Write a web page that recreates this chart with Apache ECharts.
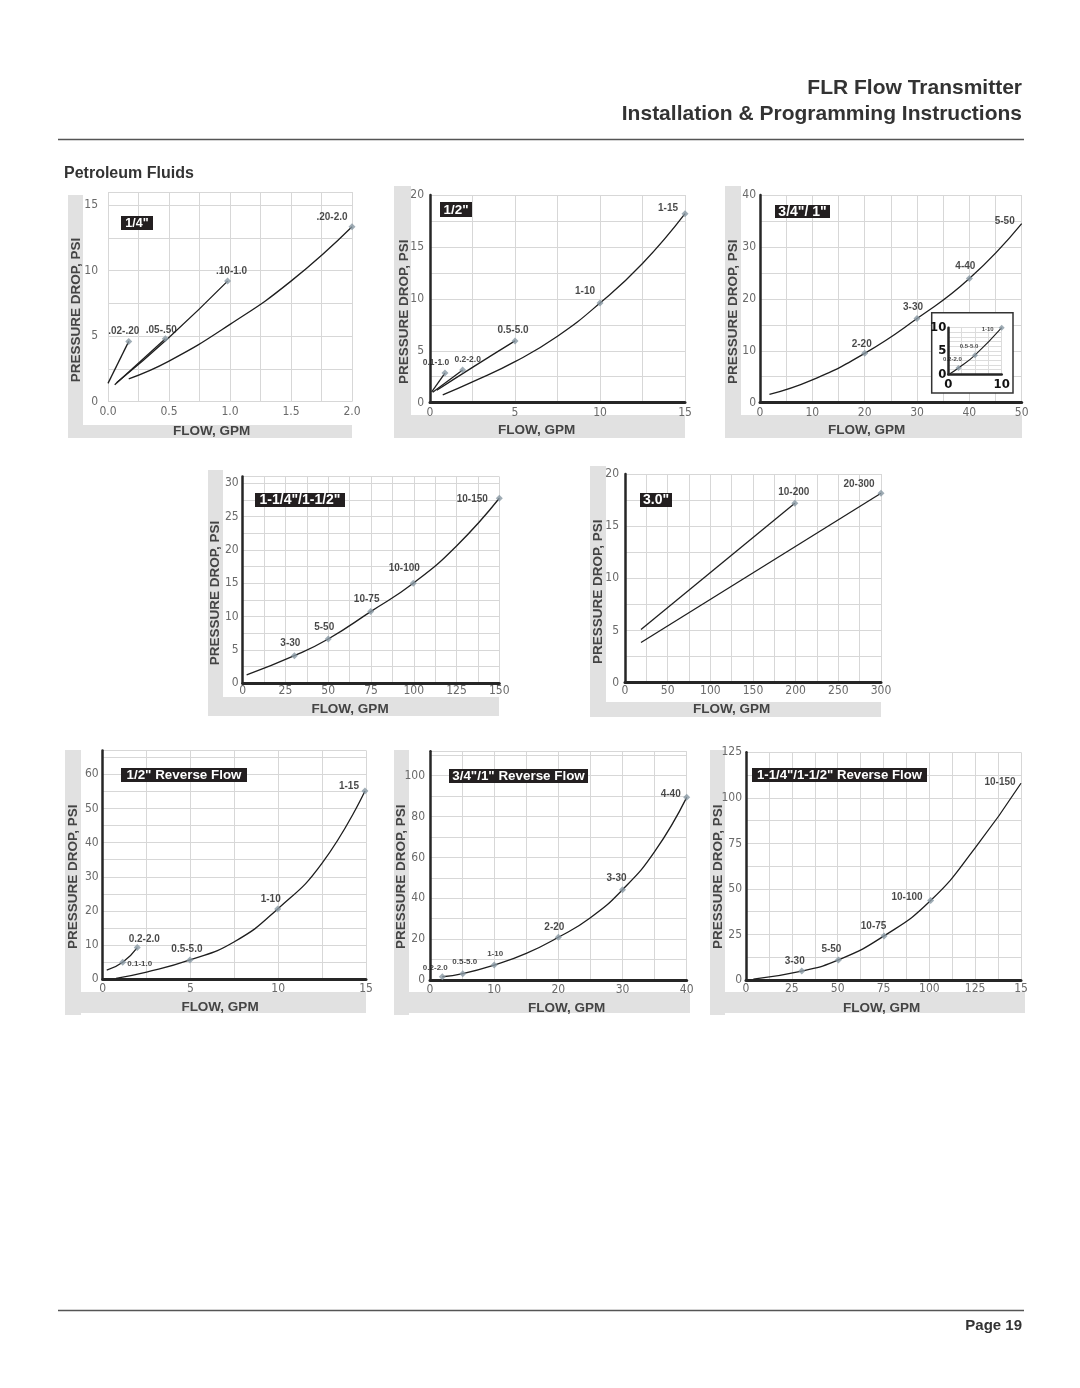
<!DOCTYPE html>
<html><head><meta charset="utf-8">
<script src="https://cdn.jsdelivr.net/npm/echarts@6/dist/echarts.min.js"></script>
<style>html,body{margin:0;padding:0;background:#fff}#c{width:1080px;height:1388px}</style>
</head><body><div id="c"></div>
<script>
// ================= DATA =================
// 1/4"
const quarter_xTicks = [0, 0.5, 1, 1.5, 2];
const quarter_yTicks = [0, 5, 10, 15];
const quarter_c1 = [[0.0, 1.4], [0.17, 4.6]];
const quarter_c2 = [[0.055, 1.3], [0.47, 4.8]];
const quarter_c3 = [[0.07, 1.45], [0.5, 4.9], [0.98, 9.2]];
const quarter_c4 = [[0.17, 1.75], [0.5, 3.1], [1.0, 5.9], [1.5, 9.2], [2.0, 13.35]];
const quarter_points = [[0.17, 4.6], [0.47, 4.8], [0.98, 9.2], [2.0, 13.35]];
const quarter_labels = ['.02-.20', '.05-.50', '.10-1.0', '.20-2.0'];

// 1/2"
const half_xTicks = [0, 5, 10, 15];
const half_yTicks = [0, 5, 10, 15, 20];
const half_c1 = [[0.1, 1.05], [0.88, 2.85]];
const half_c2 = [[0.16, 1.0], [1.92, 3.15]];
const half_c3 = [[0.4, 1.2], [2.5, 3.4], [5.0, 5.95]];
const half_c4 = [[0.75, 0.75], [2.5, 2.0], [5, 3.95], [7.5, 6.4], [10, 9.6], [12.5, 13.4], [15, 18.2]];
const half_points = [[0.88, 2.85], [1.92, 3.15], [5.0, 5.95], [10, 9.6], [15, 18.2]];
const half_labels = ['0.1-1.0', '0.2-2.0', '0.5-5.0', '1-10', '1-15'];

// 3/4" / 1"
const threeQ_xTicks = [0, 10, 20, 30, 40, 50];
const threeQ_yTicks = [0, 10, 20, 30, 40];
const threeQ_curve = [[1.8, 1.6], [10, 4.4], [20, 9.5], [30, 16.2], [40, 23.9], [50, 34.5]];
const threeQ_points = [[20, 9.5], [30, 16.2], [40, 23.9]];
const threeQ_labels = ['2-20', '3-30', '4-40'];
const threeQ_endPoint = [[50, 34.5]];
const threeQ_endLabel = ['5-50'];

// 3/4" / 1" inset
const inset_xTicks = [0, 10];
const inset_yTicks = [0, 5, 10];
const inset_curve = [[0.3, 0.1], [1.9, 1.35], [5, 4.1], [10, 10]];
const inset_points = [[1.9, 1.35], [5, 4.1], [10, 10]];
const inset_labels = ['0.2-2.0', '0.5-5.0', '1-10'];

// 1-1/4" / 1-1/2"
const oneQ_xTicks = [0, 25, 50, 75, 100, 125, 150];
const oneQ_yTicks = [0, 5, 10, 15, 20, 25, 30];
const oneQ_curve = [[2.3, 1.25], [30.2, 4.15], [50, 6.65], [74.8, 10.75], [99.7, 15], [125, 20.6], [150, 27.75]];
const oneQ_points = [[30.2, 4.15], [50, 6.65], [74.8, 10.75], [99.7, 15], [150, 27.75]];
const oneQ_labels = ['3-30', '5-50', '10-75', '10-100', '10-150'];

// 3.0"
const three_xTicks = [0, 50, 100, 150, 200, 250, 300];
const three_yTicks = [0, 5, 10, 15, 20];
const three_c1 = [[18.75, 5.1], [199, 17.2]];
const three_c2 = [[18.75, 3.85], [300, 18.15]];
const three_points = [[199, 17.2], [300, 18.15]];
const three_labels = ['10-200', '20-300'];

// 1/2" Reverse Flow
const halfRev_xTicks = [0, 5, 10, 15];
const halfRev_yTicks = [0, 10, 20, 30, 40, 50, 60];
const halfRev_c1 = [[0.23, 2.7], [1.14, 5.0], [1.97, 9.3]];
const halfRev_c2 = [[0.76, 0.3], [2.5, 2.1], [4.97, 5.66], [7.5, 11.0], [9.97, 20.6], [12.5, 34], [14.94, 55.1]];
const halfRev_points = [[1.14, 5.0], [1.97, 9.3], [4.97, 5.66], [9.97, 20.6], [14.94, 55.1]];
const halfRev_labels = ['0.1-1.0', '0.2-2.0', '0.5-5.0', '1-10', '1-15'];

// 3/4"/1" Reverse Flow
const threeQRev_xTicks = [0, 10, 20, 30, 40];
const threeQRev_yTicks = [0, 20, 40, 60, 80, 100];
const threeQRev_curve = [[1.92, 1.6], [5.1, 3.1], [10, 7.3], [15, 13.0], [20, 20.9], [25, 30.5], [30, 44.2], [35, 62.8], [40, 89.4]];
const threeQRev_points = [[1.92, 1.6], [5.1, 3.1], [10, 7.3], [20, 20.9], [30, 44.2], [40, 89.4]];
const threeQRev_labels = ['0.2-2.0', '0.5-5.0', '1-10', '2-20', '3-30', '4-40'];

// 1-1/4"/1-1/2" Reverse Flow
const oneQRev_xTicks = [0, 25, 50, 75, 100, 125, 150];
const oneQRev_xTickText = ['0', '25', '50', '75', '100', '125', '15'];
const oneQRev_yTicks = [0, 25, 50, 75, 100, 125];
const oneQRev_curve = [[4, 0.5], [30.4, 4.9], [50.4, 11], [75.3, 24.2], [100.7, 43.6], [125, 72.5], [150, 108]];
const oneQRev_points = [[30.4, 4.9], [50.4, 11], [75.3, 24.2], [100.7, 43.6]];
const oneQRev_labels = ['3-30', '5-50', '10-75', '10-100'];
const oneQRev_endPoint = [[150, 108]];
const oneQRev_endLabel = ['10-150'];

// ================= LAYOUT / STYLE =================
const FONT_N = "'Liberation Sans Narrow','Arial Narrow','DejaVu Sans Condensed',sans-serif";
const FONT = "'Liberation Sans',Arial,Helvetica,sans-serif";

const specs = [
  { g: [108, 192, 244, 209.7], x: [0, 2, 0.25], y: [0, 16, 2.5], xt: quarter_xTicks, yt: quarter_yTicks, xdec: 1, dark: false, ym: 10, xm: 4,
    curves: [quarter_c1, quarter_c2, quarter_c3, quarter_c4], pts: quarter_points, lab: quarter_labels,
    offs: [[-5, -10], [-4, -9], [4, -10], [-20, -9]], lfs: [10, 10, 10, 10],
    box: ['1/4"', 121, 216, 32, 14, 12.5], bandL: [68, 195, 15, 243], bandB: [68, 425, 284, 13], yT: [76, 310], xT: [211.7, 431.5] },
  { g: [430, 195, 255, 207.7], x: [0, 15, 2.5], y: [0, 20, 2.5], xt: half_xTicks, yt: half_yTicks, dark: true, ym: 6, xm: 4,
    curves: [half_c1, half_c2, half_c3, half_c4], pts: half_points, lab: half_labels,
    offs: [[-9, -10], [5, -10], [-2, -11], [-15, -12], [-17, -5]], lfs: [8.5, 8.5, 10, 10, 10],
    box: ['1/2"', 440, 202, 32, 15, 13.4], bandL: [394, 186, 17, 252], bandB: [394, 415, 291, 23], yT: [404, 311.7], xT: [536.7, 430] },
  { g: [760, 195, 261.7, 207.7], x: [0, 50, 5], y: [0, 40, 5], xt: threeQ_xTicks, yt: threeQ_yTicks, dark: true, ym: 4, xm: 4,
    curves: [threeQ_curve], pts: threeQ_points, lab: threeQ_labels,
    offs: [[-3, -9], [-4, -11], [-4, -12]], lfs: [10, 10, 10],
    tags: threeQ_endPoint, tagLab: threeQ_endLabel, tagOffs: [[-17, -2]],
    box: ['3/4"/ 1"', 775, 205, 55, 13, 14], bandL: [725, 186, 16, 252], bandB: [725, 415, 297, 23], yT: [733.3, 311.7], xT: [866.7, 430] },
  { g: [242.7, 476.6, 256.6, 206.7], x: [0, 150, 12.5], y: [0, 31, 2.5], xt: oneQ_xTicks, yt: oneQ_yTicks, dark: true, ym: 4, xm: 2,
    curves: [oneQ_curve], pts: oneQ_points, lab: oneQ_labels,
    offs: [[-4, -12], [-4, -11.5], [-4, -12], [-9, -15], [-27, 1]], lfs: [10, 10, 10, 10, 10],
    box: ['1-1/4"/1-1/2"', 255, 493, 90, 14, 14], bandL: [208, 470, 15, 246], bandB: [208, 697, 291, 19], yT: [215.5, 593], xT: [350, 709.5] },
  { g: [625, 474, 256, 208.7], x: [0, 300, 25], y: [0, 20, 2.5], xt: three_xTicks, yt: three_yTicks, dark: true, ym: 6, xm: 2,
    curves: [three_c1, three_c2], pts: three_points, lab: three_labels,
    offs: [[-1, -11], [-22, -9]], lfs: [10, 10],
    box: ['3.0"', 640, 493, 32, 14, 14], bandL: [590, 466, 16, 251], bandB: [590, 702, 291, 15], yT: [598, 591.7], xT: [731.7, 709.5] },
  { g: [102.7, 750.4, 263.3, 228.9], x: [0, 15, 2.5], y: [0, 67, 5], xt: halfRev_xTicks, yt: halfRev_yTicks, dark: true, ym: 4, xm: 4,
    curves: [halfRev_c1, halfRev_c2], pts: halfRev_points, lab: halfRev_labels,
    offs: [[17, 2], [7, -8], [-3, -11], [-7, -10], [-16, -5]], lfs: [8, 10, 10, 10, 10],
    box: ['1/2" Reverse Flow', 121, 768, 126, 14, 13.4], bandL: [65, 750, 16, 265], bandB: [65, 992, 301, 21], yT: [73, 876.7], xT: [220, 1007] },
  { g: [430, 751.2, 256.7, 228.8], x: [0, 40, 5], y: [0, 112, 10], xt: threeQRev_xTicks, yt: threeQRev_yTicks, dark: true, ym: 5, xm: 4,
    curves: [threeQRev_curve], pts: threeQRev_points, lab: threeQRev_labels,
    offs: [[-7, -9], [2, -12], [1, -11], [-4, -10], [-6, -11], [-16, -3]], lfs: [8, 8, 8, 10, 10, 10],
    box: ['3/4"/1" Reverse Flow', 449, 769, 139, 14, 13.4], bandL: [394, 750, 15, 265], bandB: [394, 992, 296, 21], yT: [401.7, 876.7], xT: [566.7, 1008] },
  { g: [746, 752.3, 275, 227.7], x: [0, 150, 12.5], y: [0, 125, 12.5], xt: oneQRev_xTicks, xtt: oneQRev_xTickText, yt: oneQRev_yTicks, dark: true, ym: 4, xm: 3,
    curves: [oneQRev_curve], pts: oneQRev_points, lab: oneQRev_labels,
    offs: [[-7, -10], [-7, -10.5], [-10.5, -10], [-23.6, -3]], lfs: [10, 10, 10, 10],
    tags: oneQRev_endPoint, tagLab: oneQRev_endLabel, tagOffs: [[-21, -1]],
    box: ['1-1/4"/1-1/2" Reverse Flow', 752, 768, 175, 14, 13.2], bandL: [710, 750, 15, 265], bandB: [710, 992, 315, 21], yT: [718, 876.7], xT: [881.7, 1008] },
  // inset of 3/4" / 1"
  { g: [948.3, 327.7, 53.4, 46.6], x: [0, 10, 2.5], y: [0, 10, 1], xt: inset_xTicks, yt: inset_yTicks, dark: true, ym: 2, xm: 4, inset: true, z: 3,
    curves: [inset_curve], pts: inset_points, lab: inset_labels,
    offs: [[-6, -9], [-6, -9], [-14, 2]], lfs: [6, 6, 6] }
];

function idx(ticks, v) { for (let i = 0; i < ticks.length; i++) if (Math.abs(ticks[i] - v) < 1e-6) return i; return -1; }

const grids = [], xAxes = [], yAxes = [], series = [], gr = [];

function txt(x, y, t, o) {
  const al = o.align || 'center';
  return { type: 'text', x: x, y: y, rotation: o.rot || 0, z: o.z || 5, silent: true,
    style: { text: t, fill: o.fill || '#333', fontSize: o.fs, fontWeight: o.fw || 'bold', fontFamily: o.ff || FONT,
      align: al, textAlign: al, verticalAlign: 'middle', textVerticalAlign: 'middle' } };
}

specs.forEach((s, i) => {
  const z = s.z || 0;
  grids.push({ left: s.g[0], top: s.g[1], width: s.g[2], height: s.g[3], containLabel: false, outerBoundsMode: 'none', show: false });
  const lbl = s.inset
    ? { color: '#111', fontFamily: FONT_N, fontSize: 13, fontWeight: 'bold' }
    : { color: '#6a6a6a', fontFamily: FONT_N, fontSize: 12 };
  const splitC = s.inset ? '#dcdcdc' : '#d7d7d7';
  xAxes.push({
    gridIndex: i, type: 'value', min: s.x[0], max: s.x[1], interval: s.x[2], z: z,
    axisLine: { show: s.dark, onZero: false, lineStyle: { color: '#262626', width: s.inset ? 2.5 : 3 } },
    axisTick: { show: false },
    splitLine: { show: true, lineStyle: { color: splitC, width: 1 } },
    axisLabel: Object.assign({}, lbl, { margin: s.xm, showMinLabel: true, showMaxLabel: true,
      formatter: v => { const k = idx(s.xt, v); if (k < 0) return ''; if (s.xtt) return s.xtt[k]; return s.xdec ? v.toFixed(s.xdec) : String(v); } })
  });
  yAxes.push({
    gridIndex: i, type: 'value', min: s.y[0], max: s.y[1], interval: s.y[2], z: z,
    axisLine: { show: s.dark, onZero: false, lineStyle: { color: '#262626', width: 2.5 } },
    axisTick: { show: false },
    splitLine: { show: true, lineStyle: { color: splitC, width: 1 } },
    axisLabel: Object.assign({}, lbl, { margin: s.ym, showMinLabel: true, showMaxLabel: true,
      formatter: v => { const k = idx(s.yt, v); return k < 0 ? '' : String(v); } })
  });
  s.curves.forEach(c => series.push({
    type: 'line', xAxisIndex: i, yAxisIndex: i, data: c, smooth: 0.5,
    symbol: 'none', silent: true, z: z + 3, lineStyle: { color: '#1e1e1e', width: s.inset ? 1.1 : 1.3 }
  }));
  const labBase = { show: true, position: 'inside', color: '#1a1a1a', fontWeight: 'bold', fontFamily: FONT };
  series.push({
    type: 'scatter', xAxisIndex: i, yAxisIndex: i, symbol: 'diamond', symbolSize: s.inset ? 6 : 7, clip: false, silent: true, z: z + 4,
    itemStyle: { color: '#8898a4' }, label: labBase,
    data: s.pts.map((p, k) => ({ value: p, label: { formatter: s.lab[k], offset: s.offs[k], fontSize: s.lfs[k] } }))
  });
  if (s.tags) {
    series.push({
      type: 'scatter', xAxisIndex: i, yAxisIndex: i, symbol: 'diamond', symbolSize: 0, clip: false, silent: true, z: z + 4,
      label: labBase,
      data: s.tags.map((p, k) => ({ value: p, label: { formatter: s.tagLab[k], offset: s.tagOffs[k], fontSize: 10 } }))
    });
  }
  if (!s.inset) {
    gr.push({ type: 'rect', silent: true, z: 0, shape: { x: s.bandL[0], y: s.bandL[1], width: s.bandL[2], height: s.bandL[3] }, style: { fill: '#e1e1e1' } });
    gr.push({ type: 'rect', silent: true, z: 0, shape: { x: s.bandB[0], y: s.bandB[1], width: s.bandB[2], height: s.bandB[3] }, style: { fill: '#e1e1e1' } });
    gr.push(txt(s.yT[0], s.yT[1], 'PRESSURE DROP, PSI', { fs: 13.5, fill: '#444', rot: Math.PI / 2 }));
    gr.push(txt(s.xT[0], s.xT[1], 'FLOW, GPM', { fs: 13.5, fill: '#444' }));
    const b = s.box;
    gr.push({ type: 'rect', silent: true, z: 10, shape: { x: b[1], y: b[2], width: b[3], height: b[4] }, style: { fill: '#231f20' } });
    gr.push(txt(b[1] + b[3] / 2, b[2] + b[4] / 2 + 0.5, b[0], { fs: b[5], fill: '#fff', z: 11 }));
  }
});

// inset box (white, bordered) sits above main chart grid lines but below inset content
gr.push({ type: 'rect', silent: true, z: 1, shape: { x: 931.7, y: 312.7, width: 81.3, height: 80.3 }, style: { fill: '#fff', stroke: '#333', lineWidth: 1.5 } });

// page header / footer
gr.push(txt(1022, 88.5, 'FLR Flow Transmitter', { fs: 21, align: 'right', fill: '#333' }));
gr.push(txt(1022, 114, 'Installation & Programming Instructions', { fs: 21, align: 'right', fill: '#333' }));
gr.push({ type: 'line', silent: true, shape: { x1: 58, y1: 139.5, x2: 1024, y2: 139.5 }, style: { stroke: '#555', lineWidth: 1.5 } });
gr.push(txt(64, 173.5, 'Petroleum Fluids', { fs: 16, align: 'left', fill: '#333' }));
gr.push({ type: 'line', silent: true, shape: { x1: 58, y1: 1310.5, x2: 1024, y2: 1310.5 }, style: { stroke: '#555', lineWidth: 1.5 } });
gr.push(txt(1022, 1326, 'Page 19', { fs: 15, align: 'right', fill: '#333' }));

const chart = echarts.init(document.getElementById('c'), null, { renderer: 'canvas', width: 1080, height: 1388 });
chart.setOption({
  animation: false,
  backgroundColor: '#ffffff',
  grid: grids,
  xAxis: xAxes,
  yAxis: yAxes,
  series: series,
  graphic: { elements: gr }
});
</script>
</body></html>
